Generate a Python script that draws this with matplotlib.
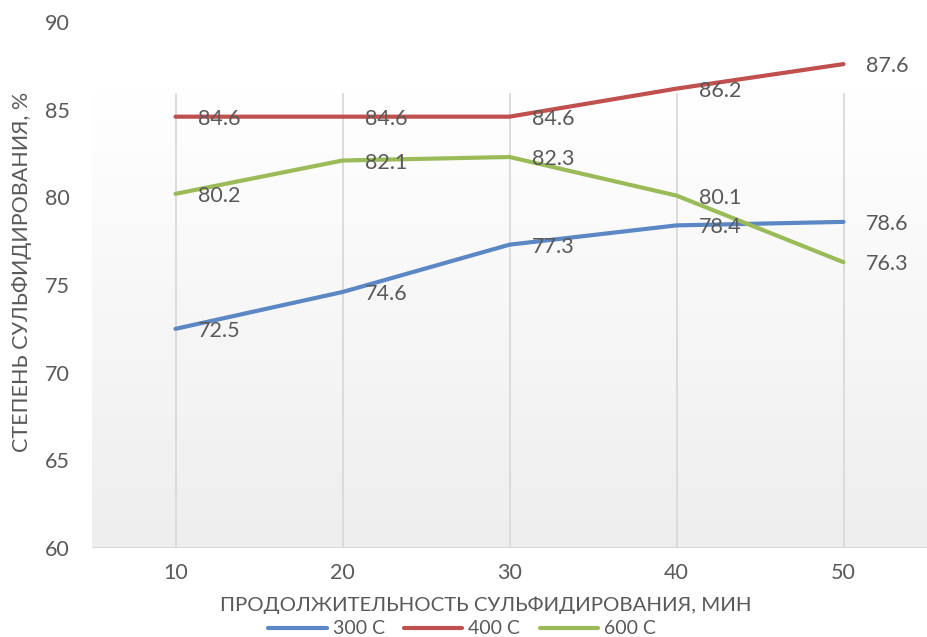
import numpy as np
import matplotlib
import matplotlib.pyplot as plt
from matplotlib.colors import LinearSegmentedColormap

plt.rcParams['font.family'] = ['Lato', 'DejaVu Sans']

# data
minutes = [10, 20, 30, 40, 50]
deg300 = [72.5, 74.6, 77.3, 78.4, 78.6]
deg400 = [84.6, 84.6, 84.6, 86.2, 87.6]
deg600 = [80.2, 82.1, 82.3, 80.1, 76.3]
series_names = ['300 С', '400 С', '600 С']
y_ticks = [60, 65, 70, 75, 80, 85, 90]

colors = ['#5b87c4', '#c0504d', '#9bbb59']
text_col = '#595959'

fig = plt.figure(figsize=(9.27, 6.37), dpi=100)
ax = fig.add_axes([92 / 927, 1 - 548 / 637, 1 - 92 / 927, (548 - 22) / 637])

# light gradient background of the plot area
grad = np.linspace(0, 1, 256).reshape(-1, 1)
cmap = LinearSegmentedColormap.from_list('bg', ['#eeeeee', '#ffffff'])
ax.imshow(grad, extent=[5, 55, 60, 85.9], origin='lower', aspect='auto',
          cmap=cmap, zorder=0)

ax.set_xlim(5, 55)
ax.set_ylim(60, 90)

# vertical gridlines at categories
for m in minutes:
    ax.axvline(m, ymin=0, ymax=(85.9 - 60) / 30, color='#d9d9d9', lw=1.3, zorder=1)
ax.axhline(60, color='#d9d9d9', lw=1.5, zorder=1)

for vals, name, c in zip([deg300, deg400, deg600], series_names, colors):
    ax.plot(minutes, vals, color=c, lw=3, label=name, zorder=3,
            solid_capstyle='round')
    for m, v in zip(minutes, vals):
        ax.annotate(f'{v:.1f}', (m, v), xytext=(16, -1.5), textcoords='offset points',
                    ha='left', va='center', fontsize=15.5, color=text_col, zorder=4)

for s in ax.spines.values():
    s.set_visible(False)
ax.set_xticks(minutes)
ax.set_xticklabels([str(m) for m in minutes])
ax.set_yticks(y_ticks)
ax.tick_params(length=0, labelsize=15.5, labelcolor=text_col)
ax.tick_params(axis='y', pad=16)
ax.tick_params(axis='x', pad=11)

fig.text(486 / 927, 1 - 605 / 637, 'ПРОДОЛЖИТЕЛЬНОСТЬ СУЛЬФИДИРОВАНИЯ, МИН',
         ha='center', va='center', fontsize=14.7, color=text_col)
fig.text(22 / 927, 1 - 272 / 637, 'СТЕПЕНЬ СУЛЬФИДИРОВАНИЯ, %', rotation=90,
         ha='center', va='center', fontsize=15.5, color=text_col)

leg = fig.legend(loc='center', bbox_to_anchor=(462 / 927, 1 - 629 / 637), ncol=3,
                 frameon=False, fontsize=14, handlelength=3.0, handletextpad=0.3,
                 columnspacing=1.0, borderpad=0)
for t in leg.get_texts():
    t.set_color(text_col)

plt.savefig('out.png', dpi=100)
plt.close()
